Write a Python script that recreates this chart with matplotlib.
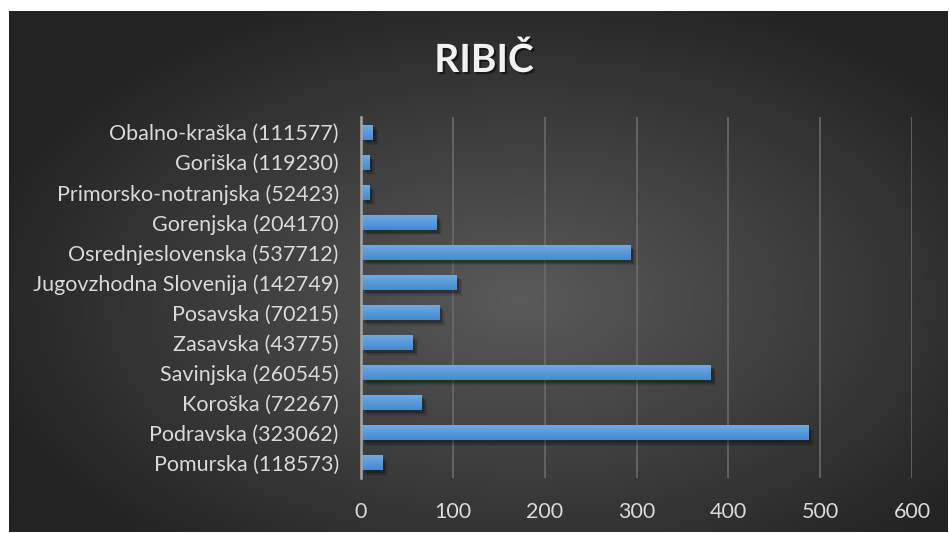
import numpy as np
import matplotlib
matplotlib.use("Agg")
import matplotlib.pyplot as plt
from matplotlib import patheffects as pe

categories = ["Pomurska (118573)", "Podravska (323062)", "Koroška (72267)",
              "Savinjska (260545)", "Zasavska (43775)", "Posavska (70215)",
              "Jugovzhodna Slovenija (142749)", "Osrednjeslovenska (537712)",
              "Gorenjska (204170)", "Primorsko-notranjska (52423)",
              "Goriška (119230)", "Obalno-kraška (111577)"]
values = [23, 487, 66, 381, 56, 85, 104, 293, 82, 9, 9, 13]
xticks = [0, 100, 200, 300, 400, 500, 600]
title = "RIBIČ"

W, H = 949, 533
fig = plt.figure(figsize=(W / 100, H / 100), dpi=100, facecolor="white")

# background panel with radial gradient
bx0, by0, bx1, by1 = 9, 11, 948, 532
bg = fig.add_axes([bx0 / W, 1 - by1 / H, (bx1 - bx0) / W, (by1 - by0) / H], zorder=0)
bg.set_axis_off()
nx, ny = 400, 220
xx, yy = np.meshgrid(np.linspace(bx0, bx1, nx), np.linspace(by0, by1, ny))
cx, cy = 520, 300
r = np.sqrt(((xx - cx) / 560) ** 2 + ((yy - cy) / 330) ** 2)
r = np.clip(r, 0, 1)
inner = np.array([0x5a, 0x5a, 0x5a]) / 255
outer = np.array([0x23, 0x23, 0x23]) / 255
img = inner[None, None, :] * (1 - r[..., None]) + outer[None, None, :] * r[..., None]
bg.imshow(img, extent=[0, 1, 0, 1], aspect="auto", origin="upper")
bg.set_xlim(0, 1); bg.set_ylim(0, 1)

# main axes
l, rgt, top, bot = 361, 912, 117, 478
ax = fig.add_axes([l / W, 1 - bot / H, (rgt - l) / W, (bot - top) / H], zorder=1)
ax.patch.set_alpha(0)
y = np.arange(len(categories))
bars = ax.barh(y, values, height=0.5, color="#5b9bd5", zorder=3)
ax.set_xlim(0, 600)
ax.set_ylim(-0.5, len(categories) - 0.5)

# gradient + soft shadow on bars
grad = np.linspace(0, 1, 50)[:, None]
c_top = np.array([0x74, 0xab, 0xe2]) / 255
c_bot = np.array([0x45, 0x8b, 0xd0]) / 255
gimg = c_top[None, None, :] * (1 - grad[..., None]) + c_bot[None, None, :] * grad[..., None]
gimg = np.repeat(gimg, 2, axis=1)
for b in bars:
    x0, y0 = b.get_x(), b.get_y()
    w, h = b.get_width(), b.get_height()
    b.set_path_effects([
        pe.SimplePatchShadow(offset=(4, -4), shadow_rgbFace="black", alpha=0.10),
        pe.SimplePatchShadow(offset=(3, -3), shadow_rgbFace="black", alpha=0.15),
        pe.SimplePatchShadow(offset=(2, -2), shadow_rgbFace="black", alpha=0.20),
        pe.Normal()])
    im = ax.imshow(gimg, extent=[x0, x0 + w, y0, y0 + h], aspect="auto",
                   origin="upper", zorder=4)
    im.set_clip_path(b)

ax.set_xticks(xticks)
ax.set_yticks(y)
ax.set_yticklabels(categories)
ax.xaxis.grid(True, color="#6a6a6a", linewidth=1.2, zorder=1)
ax.set_axisbelow(True)
for s in ["top", "right", "bottom"]:
    ax.spines[s].set_visible(False)
ax.spines["left"].set_color("#a6a6a6")
ax.spines["left"].set_linewidth(1.8)
ax.spines["left"].set_zorder(5)
ax.tick_params(axis="both", length=0, colors="#d9d9d9", labelsize=15.5)
ax.tick_params(axis="y", pad=16)
ax.tick_params(axis="x", pad=17)
for t in ax.get_xticklabels() + ax.get_yticklabels():
    t.set_fontfamily("Lato")
    t.set_color("#d9d9d9")

fig.text(484 / W, 1 - 60 / H, title, ha="center", va="center", fontsize=28,
         fontweight="bold", fontfamily="Lato", color="#f2f2f2",
         path_effects=[pe.withSimplePatchShadow(offset=(1.5, -1.5), shadow_rgbFace="black", alpha=0.5)])

fig.savefig("out.png", dpi=100, facecolor="white")
